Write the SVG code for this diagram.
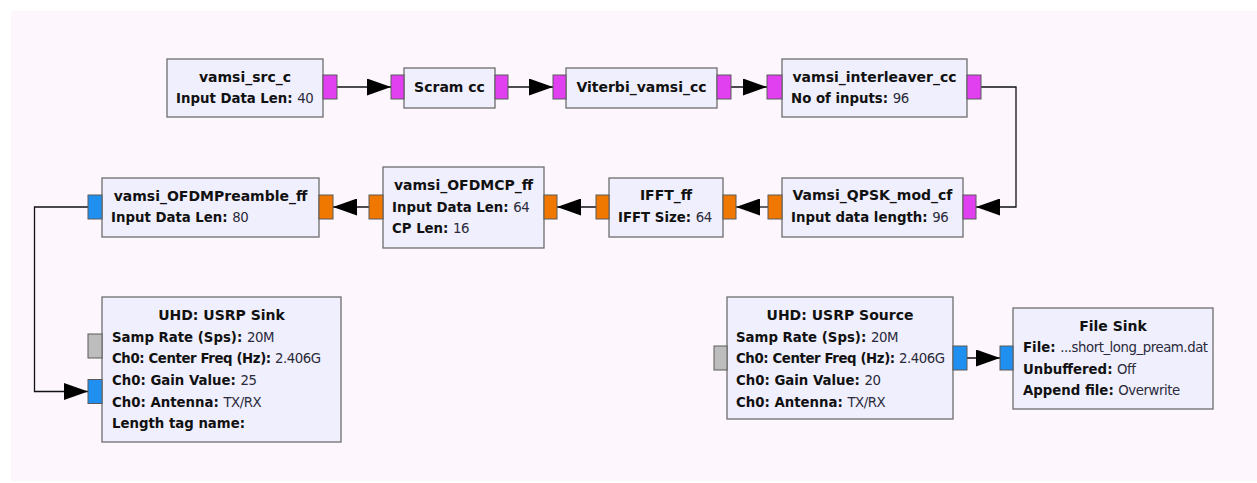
<svg xmlns="http://www.w3.org/2000/svg" width="1257" height="483" viewBox="0 0 1257 483">
  <style>
    .blk { fill: #f0effd; stroke: #6e6e6e; stroke-width: 1.3; }
    .port { stroke: #5a5a5a; stroke-width: 1; }
    .cx { fill: #e040f0; }
    .fl { fill: #f07800; }
    .cf { fill: #2090f0; }
    .msg { fill: #bdbdbd; }
    .title { font-family: "DejaVu Sans", sans-serif; font-size: 14px; font-weight: bold; fill: #111; text-anchor: middle; }
    .param { font-family: "DejaVu Sans", sans-serif; font-size: 13.3px; font-weight: bold; fill: #111; }
    .param tspan { font-weight: normal; letter-spacing: -0.45px; fill: #2a2a3a; }
    .tight { letter-spacing: -0.4px; }
    .wire { fill: none; stroke: #111; stroke-width: 1.3; }
  </style>
  <defs>
    <marker id="arrow" markerUnits="userSpaceOnUse" markerWidth="24" markerHeight="17" refX="24" refY="8.5" orient="auto">
      <path d="M0,0 L24,8.5 L0,17 z" fill="#000"/>
    </marker>
  </defs>

  <rect x="0" y="0" width="1257" height="483" fill="#ffffff"/>
  <rect x="11" y="11" width="1246" height="470" fill="#fdf6fd"/>

  <!-- connectors -->
  <g id="connectors">
    <path class="wire" d="M337,87 L391,87" marker-end="url(#arrow)"/>
    <path class="wire" d="M508,87 L553,87" marker-end="url(#arrow)"/>
    <path class="wire" d="M731,87 L767,87" marker-end="url(#arrow)"/>
    <path class="wire" d="M981,87 L1016,87 L1016,207 L976,207" marker-end="url(#arrow)"/>
    <path class="wire" d="M768,207 L736,207" marker-end="url(#arrow)"/>
    <path class="wire" d="M596,207 L557,207" marker-end="url(#arrow)"/>
    <path class="wire" d="M369,207 L333,207" marker-end="url(#arrow)"/>
    <path class="wire" d="M88,207 L34.5,207 L34.5,391.5 L88,391.5" marker-end="url(#arrow)"/>
    <path class="wire" d="M967,358 L1000,358" marker-end="url(#arrow)"/>
  </g>

  <g id="vamsi_src_c">
    <rect class="blk" x="167" y="59" width="156" height="58"/>
    <rect class="port cx" x="323" y="75" width="14" height="24"/>
    <text class="title" x="245" y="82">vamsi_src_c</text>
    <text class="param" x="176" y="103">Input Data Len: <tspan>40</tspan></text>
  </g>

  <g id="scram_cc">
    <rect class="blk" x="404" y="68" width="91" height="40"/>
    <rect class="port cx" x="391" y="75" width="13" height="24"/>
    <rect class="port cx" x="495" y="75" width="13" height="24"/>
    <text class="title" x="449.5" y="92">Scram cc</text>
  </g>

  <g id="viterbi_vamsi_cc">
    <rect class="blk" x="566" y="68" width="151" height="40"/>
    <rect class="port cx" x="553" y="75" width="13" height="24"/>
    <rect class="port cx" x="717" y="75" width="14" height="24"/>
    <text class="title" x="641.5" y="92">Viterbi_vamsi_cc</text>
  </g>

  <g id="vamsi_interleaver_cc">
    <rect class="blk" x="782" y="59" width="185" height="58"/>
    <rect class="port cx" x="767" y="75" width="15" height="24"/>
    <rect class="port cx" x="967" y="75" width="14" height="24"/>
    <text class="title" x="874.5" y="82">vamsi_interleaver_cc</text>
    <text class="param" x="791" y="103">No of inputs: <tspan>96</tspan></text>
  </g>

  <g id="vamsi_qpsk_mod_cf">
    <rect class="blk" x="782" y="178" width="181" height="59"/>
    <rect class="port fl" x="768" y="195" width="14" height="24"/>
    <rect class="port cx" x="963" y="195" width="13" height="24"/>
    <text class="title" x="872.5" y="200">Vamsi_QPSK_mod_cf</text>
    <text class="param" x="791" y="222">Input data length: <tspan>96</tspan></text>
  </g>

  <g id="ifft_ff">
    <rect class="blk" x="609" y="178" width="114" height="59"/>
    <rect class="port fl" x="596" y="195" width="13" height="24"/>
    <rect class="port fl" x="723" y="195" width="13" height="24"/>
    <text class="title" x="666" y="200">IFFT_ff</text>
    <text class="param" x="618" y="222">IFFT Size: <tspan>64</tspan></text>
  </g>

  <g id="vamsi_ofdmcp_ff">
    <rect class="blk" x="383" y="167" width="161" height="81"/>
    <rect class="port fl" x="369" y="195" width="14" height="24"/>
    <rect class="port fl" x="544" y="195" width="13" height="24"/>
    <text class="title" x="463.5" y="190">vamsi_OFDMCP_ff</text>
    <text class="param" x="392" y="211.5">Input Data Len: <tspan>64</tspan></text>
    <text class="param" x="392" y="233">CP Len: <tspan>16</tspan></text>
  </g>

  <g id="vamsi_ofdmpreamble_ff">
    <rect class="blk" x="102" y="178" width="217" height="59"/>
    <rect class="port cf" x="88" y="195" width="14" height="24"/>
    <rect class="port fl" x="319" y="195" width="14" height="24"/>
    <text class="title" x="210.5" y="201">vamsi_OFDMPreamble_ff</text>
    <text class="param" x="111" y="222">Input Data Len: <tspan>80</tspan></text>
  </g>

  <g id="usrp_sink">
    <rect class="blk" x="102" y="297" width="239" height="145"/>
    <rect class="port msg" x="88" y="334" width="14" height="24"/>
    <rect class="port cf" x="88" y="379.5" width="14" height="24"/>
    <text class="title" x="221.5" y="320">UHD: USRP Sink</text>
    <text class="param" x="112" y="342">Samp Rate (Sps): <tspan>20M</tspan></text>
    <text class="param tight" x="112" y="363">Ch0: Center Freq (Hz): <tspan>2.406G</tspan></text>
    <text class="param" x="112" y="385">Ch0: Gain Value: <tspan>25</tspan></text>
    <text class="param" x="112" y="407">Ch0: Antenna: <tspan>TX/RX</tspan></text>
    <text class="param" x="112" y="428">Length tag name:</text>
  </g>

  <g id="usrp_source">
    <rect class="blk" x="727" y="297" width="226" height="122"/>
    <rect class="port msg" x="714" y="346" width="13" height="24"/>
    <rect class="port cf" x="953" y="346" width="14" height="24"/>
    <text class="title" x="840" y="320">UHD: USRP Source</text>
    <text class="param" x="736" y="342">Samp Rate (Sps): <tspan>20M</tspan></text>
    <text class="param tight" x="736" y="363">Ch0: Center Freq (Hz): <tspan>2.406G</tspan></text>
    <text class="param" x="736" y="385">Ch0: Gain Value: <tspan>20</tspan></text>
    <text class="param" x="736" y="407">Ch0: Antenna: <tspan>TX/RX</tspan></text>
  </g>

  <g id="file_sink">
    <rect class="blk" x="1013" y="308" width="200" height="101"/>
    <rect class="port cf" x="1000" y="346" width="13" height="24"/>
    <text class="title" x="1113" y="331">File Sink</text>
    <text class="param" x="1023" y="352">File: <tspan>...short_long_pream.dat</tspan></text>
    <text class="param" x="1023" y="374">Unbuffered: <tspan>Off</tspan></text>
    <text class="param" x="1023" y="395">Append file: <tspan>Overwrite</tspan></text>
  </g>
</svg>
